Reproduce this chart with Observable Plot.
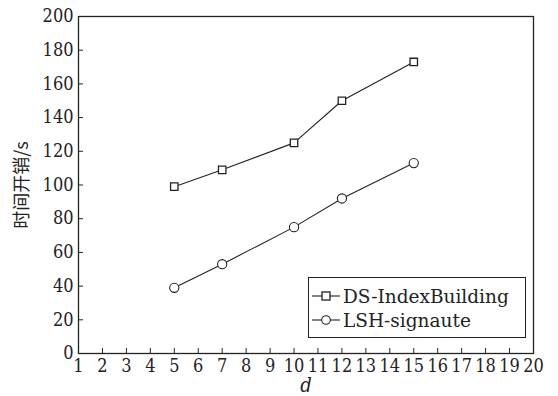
<!DOCTYPE html>
<html><head><meta charset="utf-8">
<script src="https://cdn.jsdelivr.net/npm/d3@7"></script>
<script src="https://cdn.jsdelivr.net/npm/@observablehq/plot@0.6"></script>
<style>
body{margin:0;background:#fff;}
#wrap{position:relative;width:558px;height:396px;}
#legend{position:absolute;left:308px;top:277px;width:218px;height:61px;border:1.3px solid #222;background:#fff;box-sizing:border-box;font-family:"DejaVu Serif",serif;font-size:18.5px;color:#222;}
.row{position:absolute;left:0;height:22px;display:flex;align-items:center;}
.row svg{margin-left:3px;margin-right:3px;}
</style></head>
<body><div id="wrap"><div id="chart"></div><div id="legend"></div></div>
<script>
const dValues = [5, 7, 10, 12, 15];
const dsIndexBuilding = [99, 109, 125, 150, 173];
const lshSignaute = [39, 53, 75, 92, 113];
const seriesNames = ["DS-IndexBuilding", "LSH-signaute"];
const xTicks = d3.range(1, 21);
const yTicks = d3.range(0, 201, 20);

const rows = [];
dValues.forEach((d, i) => {
  rows.push({d, v: dsIndexBuilding[i], s: seriesNames[0]});
  rows.push({d, v: lshSignaute[i], s: seriesNames[1]});
});
const ds = rows.filter(r => r.s === seriesNames[0]);
const lsh = rows.filter(r => r.s === seriesNames[1]);
const ink = "#222";
const font = "'DejaVu Serif Condensed', 'DejaVu Serif', serif";

const chart = Plot.plot({
  width: 558, height: 396,
  marginLeft: 78, marginRight: 25, marginTop: 16, marginBottom: 43,
  style: {fontFamily: font, fontSize: "18px", color: ink, background: "#fff"},
  x: {domain: [1, 20]},
  y: {domain: [0, 200]},
  marks: [
    Plot.frame({stroke: ink, strokeWidth: 1.3}),
    Plot.axisX({ticks: xTicks, tickSize: 5, dy: -5, text: null, label: null, stroke: ink}),
    Plot.axisX({ticks: xTicks, tickSize: 0, tickPadding: 6, tickFormat: d => d, label: null, fontSize: 18, fontFamily: font}),
    Plot.axisY({ticks: yTicks, tickSize: 5, dx: 5, text: null, label: null, stroke: ink}),
    Plot.axisY({ticks: yTicks, tickSize: 0, tickPadding: 5, label: null, fontSize: 18, fontFamily: font}),
    Plot.text(["d"], {frameAnchor: "bottom", dy: 38, fontStyle: "italic", fontSize: 20, fontFamily: font, fill: ink}),
    Plot.text(["时间开销/s"], {frameAnchor: "left", textAnchor: "middle", dx: -56, rotate: -90, fontFamily: "Noto Sans CJK SC", fontSize: 18, fill: ink}),
    Plot.line(ds, {x: "d", y: "v", stroke: ink, strokeWidth: 1.1}),
    Plot.line(lsh, {x: "d", y: "v", stroke: ink, strokeWidth: 1.1}),
    Plot.dot(ds, {x: "d", y: "v", symbol: "square", r: 4.2, fill: "white", stroke: ink, strokeWidth: 1.3}),
    Plot.dot(lsh, {x: "d", y: "v", symbol: "circle", r: 4.6, fill: "white", stroke: ink, strokeWidth: 1.1})
  ]
});
document.getElementById("chart").appendChild(chart);

const legend = document.getElementById("legend");
seriesNames.forEach((name, i) => {
  const row = document.createElement("div");
  row.className = "row";
  row.style.top = (7 + i * 24) + "px";
  const sym = i === 0
    ? '<rect x="10" y="5" width="8" height="8" fill="white" stroke="#222" stroke-width="1.3"/>'
    : '<circle cx="14" cy="9" r="4.3" fill="white" stroke="#222" stroke-width="1.1"/>';
  row.innerHTML = `<svg width="28" height="18"><line x1="0" x2="28" y1="9" y2="9" stroke="#222" stroke-width="1.1"/>${sym}</svg><span>${name}</span>`;
  legend.appendChild(row);
});
</script></body></html>
